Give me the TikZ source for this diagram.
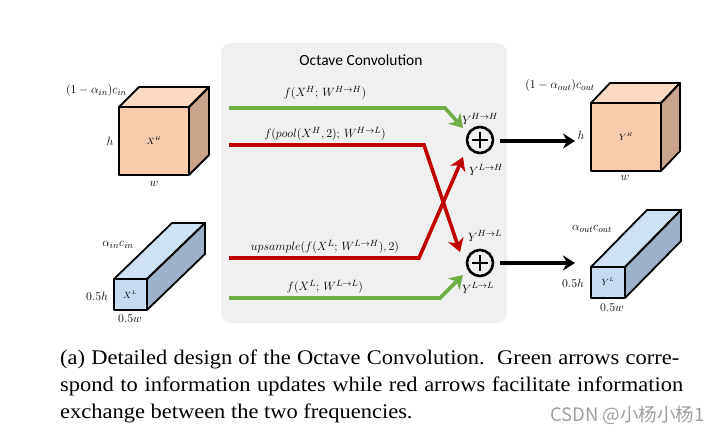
\documentclass[tikz,border=0pt]{standalone}
\usepackage{amsmath}
\usepackage{fontspec}
\setmainfont{Liberation Serif}
\newfontfamily\capfont[FakeStretch=1.08]{Liberation Serif}
\newfontfamily\calib{Carlito}
\newfontfamily\cjk{Noto Sans CJK SC}
\usetikzlibrary{arrows.meta,calc}
\definecolor{panelgray}{HTML}{F0F0F0}
\definecolor{grn}{HTML}{70AD47}
\definecolor{rd}{HTML}{C00000}
\definecolor{peachF}{HTML}{F8CBAD}
\definecolor{peachT}{HTML}{FADAC2}
\definecolor{peachS}{HTML}{C9A38B}
\definecolor{blueF}{HTML}{C5DBEF}
\definecolor{blueT}{HTML}{CFE2F3}
\definecolor{blueS}{HTML}{9DB1C8}
\tikzset{
  face/.style={draw=black,line width=1.8pt,line join=round},
  lbl/.style={inner sep=0pt,font=\fontsize{13}{15}\selectfont},
  small/.style={inner sep=0pt,font=\fontsize{9.5}{11}\selectfont},
  flow/.style={line width=3.6pt,line join=miter,-{Stealth[length=13pt,width=16pt,inset=4pt]}},
  outarrow/.style={line width=3.2pt,-{Stealth[length=12pt,width=15pt,inset=4pt]}},
  plusnode/.style={circle,draw=black,line width=2.6pt,minimum size=26pt,inner sep=0pt},
  capline/.style={anchor=base west,inner sep=0pt,font=\capfont\fontsize{20.8}{27}\selectfont}
}
\begin{document}
\begin{tikzpicture}[x=1pt,y=-1pt]
\useasboundingbox (0,0) rectangle (723,433);
% panel
\node[fill=panelgray,rounded corners=10pt,minimum width=286pt,minimum height=280pt,inner sep=0pt] (panel) at (364,183) {};
\node[inner sep=0pt,font=\calib\fontsize{15.5}{18}\selectfont] (title) at (361,60) {Octave Convolution};

% X^H cube
\fill[peachT] (119,107)--(139,87)--(209,87)--(189,107)--cycle;
\fill[peachS] (189,107)--(209,87)--(209,155)--(189,175)--cycle;
\fill[peachF] (119,107) rectangle (189,175);
\draw[face] (119,107)--(139,87)--(209,87)--(189,107)--cycle;
\draw[face] (189,107)--(209,87)--(209,155)--(189,175);
\draw[face] (119,107) rectangle (189,175);
\node[small] (xh) at (154,141) {$X^{\scriptscriptstyle H}$};
\node[lbl] (xhh) at (110,141) {$h$};
\node[lbl] (xhw) at (154,184) {$w$};
\node[lbl,anchor=east] (xhc) at (127,91) {$(1-\alpha_{in})c_{in}$};

% X^L prism
\fill[blueT] (114,279)--(172,223)--(205,223)--(147,279)--cycle;
\fill[blueS] (147,279)--(205,223)--(205,254)--(147,310)--cycle;
\fill[blueF] (114,279) rectangle (147,310);
\draw[face] (114,279)--(172,223)--(205,223)--(147,279)--cycle;
\draw[face] (147,279)--(205,223)--(205,254)--(147,310);
\draw[face] (114,279) rectangle (147,310);
\node[small] (xl) at (130,295) {$X^{\scriptscriptstyle L}$};
\node[lbl] (xlh) at (97,296) {$0.5h$};
\node[lbl] (xlw) at (130,319) {$0.5w$};
\node[lbl] (xlc) at (118,245) {$\alpha_{in}c_{in}$};

% Y^H cube
\fill[peachT] (591,103)--(610,83)--(680,83)--(661,103)--cycle;
\fill[peachS] (661,103)--(680,83)--(680,151)--(661,171)--cycle;
\fill[peachF] (591,103) rectangle (661,171);
\draw[face] (591,103)--(610,83)--(680,83)--(661,103)--cycle;
\draw[face] (661,103)--(680,83)--(680,151)--(661,171);
\draw[face] (591,103) rectangle (661,171);
\node[small] (yh) at (626,137) {$Y^{\scriptscriptstyle H}$};
\node[lbl] (yhh) at (581,135) {$h$};
\node[lbl] (yhw) at (625,178) {$w$};
\node[lbl] (yhc) at (560,86) {$(1-\alpha_{out})c_{out}$};

% Y^L prism
\fill[blueT] (591,267)--(647,210)--(681,210)--(625,267)--cycle;
\fill[blueS] (625,267)--(681,210)--(681,241)--(625,298)--cycle;
\fill[blueF] (591,267) rectangle (625,298);
\draw[face] (591,267)--(647,210)--(681,210)--(625,267)--cycle;
\draw[face] (625,267)--(681,210)--(681,241)--(625,298);
\draw[face] (591,267) rectangle (625,298);
\node[small] (yl) at (608,282) {$Y^{\scriptscriptstyle L}$};
\node[lbl] (ylh) at (573,283) {$0.5h$};
\node[lbl] (ylw) at (612,308) {$0.5w$};
\node[lbl] (ylc) at (592,229) {$\alpha_{out}c_{out}$};

% plus nodes
\node[plusnode] (pH) at (480,140) {};
\node[plusnode] (pL) at (480,263) {};
\foreach \p in {pH,pL}{
  \draw[line width=2.6pt] ($(\p)+(-8,0)$) -- ($(\p)+(8,0)$);
  \draw[line width=2.6pt] ($(\p)+(0,-8)$) -- ($(\p)+(0,8)$);
}

% flow start coordinates
\coordinate (sHH) at (229,108);
\coordinate (sHL) at (229,145);
\coordinate (sLH) at (229,258);
\coordinate (sLL) at (229,298);

\draw[flow,draw=rd] (sHL) -- (424,145) -- ($(pL)+(-20,-11)$);
\draw[flow,draw=rd] (sLH) -- (419,258) -- ($(pH)+(-17,17)$);
\draw[flow,draw=grn] (sHH) -- (445,108) -- ($(pH)+(-17,-12)$);
\draw[flow,draw=grn] (sLL) -- (440,298) -- ($(pL)+(-17,12)$);

% function labels
\node[lbl] (fHH) at (325,93) {$f(X^H;\,W^{H\to H})$};
\node[lbl] (fHL) at (325,134) {$f(pool(X^H,2);\,W^{H\to L})$};
\node[lbl] (fLH) at (325,247) {$upsample(f(X^L;\,W^{L\to H}),2)$};
\node[lbl] (fLL) at (325,287) {$f(X^L;\,W^{L\to L})$};

% Y labels
\node[lbl] (yHH) at (480,119) {$Y^{H\to H}$};
\node[lbl] (yLH) at (486,170) {$Y^{L\to H}$};
\node[lbl] (yHL) at (485,236) {$Y^{H\to L}$};
\node[lbl] (yLL) at (478,288) {$Y^{L\to L}$};

% output arrows
\draw[outarrow] (pH.east) ++(6,1) coordinate (oH) -- (575,141);
\draw[outarrow] (pL.east) ++(6,0) coordinate (oL) -- (575,263);

% caption
\node[capline] (c1) at (60,364) {\makebox[619pt][s]{(a) Detailed design of the Octave Convolution.\ \ Green arrows corre-}};
\node[capline] (c2) at (60,391) {\makebox[623pt][s]{spond to information updates while red arrows facilitate information}};
\node[capline] (c3) at (60,418) {exchange between the two frequencies.};
\node[anchor=base west,inner sep=0pt,text=black!38,font=\cjk\fontsize{18.5}{20}\selectfont] (wm) at (550,421) {CSDN @小杨小杨1};
\end{tikzpicture}
\end{document}
